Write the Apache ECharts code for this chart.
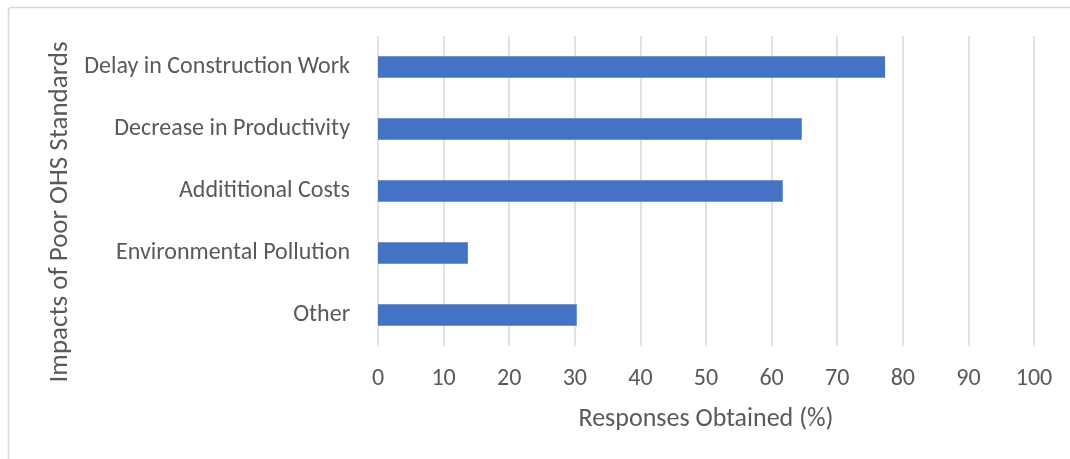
<!DOCTYPE html>
<html>
<head>
<meta charset="utf-8">
<script src="https://cdn.jsdelivr.net/npm/echarts@6/dist/echarts.min.js"></script>
<style>
  html, body { margin: 0; padding: 0; background: #fff; }
  #chart { width: 1070px; height: 459px; }
</style>
</head>
<body>
<div id="chart"></div>
<script>
// Impacts of poor OHS standards, share of responses
const categories = [
  'Delay in Construction Work',
  'Decrease in Productivity',
  'Addititional Costs',
  'Environmental Pollution',
  'Other'
];
const responses = [77.3, 64.6, 61.7, 13.7, 30.3];
const xTicks = [0, 10, 20, 30, 40, 50, 60, 70, 80, 90, 100];

const font = 'Calibri, Carlito, Lato, "Open Sans", sans-serif';
const chart = echarts.init(document.getElementById('chart'), null, { renderer: 'canvas' });

chart.setOption({
  animation: false,
  backgroundColor: '#ffffff',
  graphic: [{
    type: 'rect',
    shape: { x: 8.5, y: 7.5, width: 1080, height: 470, r: 3 },
    style: { fill: 'none', stroke: '#d9d9d9', lineWidth: 1.5 },
    silent: true
  }],
  grid: { left: 378, right: 36, top: 36, bottom: 113 },
  xAxis: {
    type: 'value',
    min: xTicks[0],
    max: xTicks[xTicks.length - 1],
    interval: 10,
    name: 'Responses Obtained (%)',
    nameLocation: 'middle',
    nameGap: 60,
    nameTextStyle: { fontFamily: font, fontSize: 26, color: '#595959' },
    axisLine: { show: false },
    axisTick: { show: false },
    axisLabel: { fontFamily: font, fontSize: 24, color: '#595959', margin: 21 },
    splitLine: { show: true, lineStyle: { color: '#d9d9d9', width: 1.5 } }
  },
  yAxis: {
    type: 'category',
    data: categories,
    inverse: true,
    name: 'Impacts of Poor OHS Standards',
    nameLocation: 'middle',
    nameGap: 301,
    nameRotate: 90,
    nameTextStyle: { fontFamily: font, fontSize: 27, color: '#595959', padding: [0, 42, 0, 0] },
    axisLine: { show: false },
    axisTick: { show: false },
    axisLabel: { fontFamily: font, fontSize: 24, color: '#595959', margin: 28, padding: [5, 0, 0, 0] },
    splitLine: { show: false }
  },
  series: [{
    type: 'bar',
    data: responses,
    barWidth: '35%',
    itemStyle: { color: '#4472C4' }
  }]
});
</script>
</body>
</html>
